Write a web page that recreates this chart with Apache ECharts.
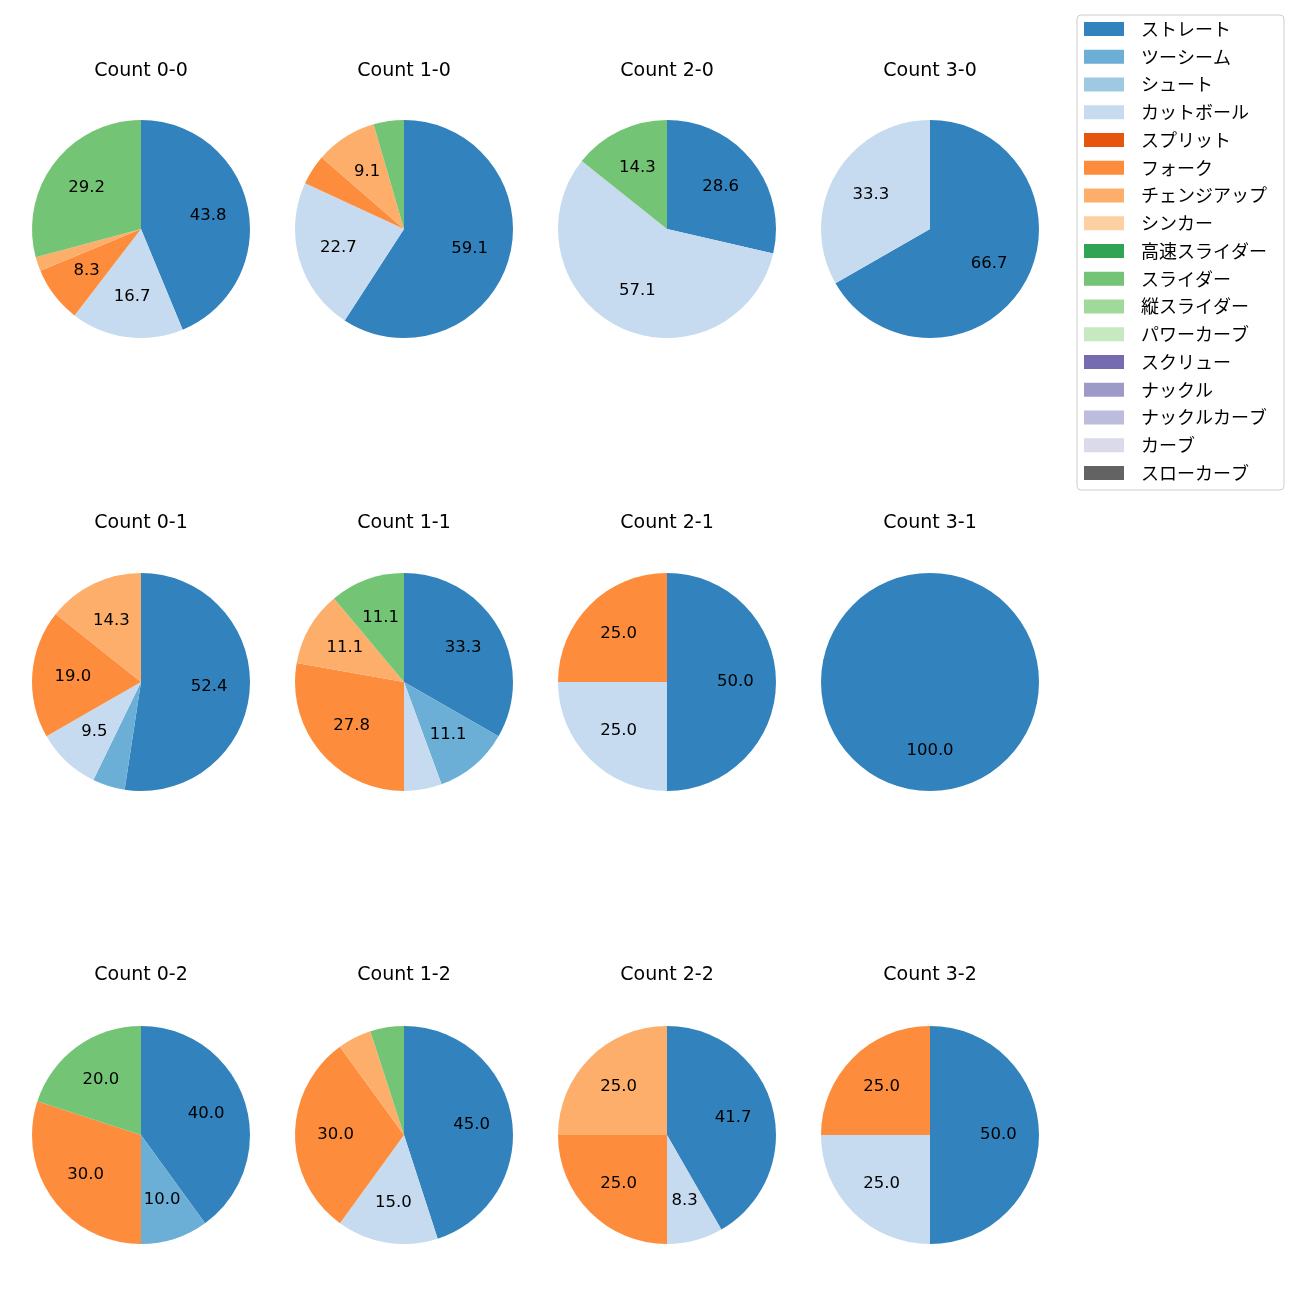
<!DOCTYPE html>
<html>
<head>
<meta charset="utf-8">
<script src="https://cdn.jsdelivr.net/npm/echarts@6/dist/echarts.min.js"></script>
<style>html,body{margin:0;padding:0;background:#fff}#c{width:1300px;height:1300px}</style>
</head>
<body>
<div id="c"></div>
<script>
const categories = ['ストレート','ツーシーム','シュート','カットボール','スプリット','フォーク','チェンジアップ','シンカー','高速スライダー','スライダー','縦スライダー','パワーカーブ','スクリュー','ナックル','ナックルカーブ','カーブ','スローカーブ'];
const colors = ['#3182bd','#6baed6','#9ecae1','#c6dbef','#e6550d','#fd8d3c','#fdae6b','#fdd0a2','#31a354','#74c476','#a1d99b','#c7e9c0','#756bb1','#9e9ac8','#bcbddc','#dadaeb','#636363'];

// percentages per category (same order as categories)
const count00 = [43.8,0,0,16.7,0,8.3,2.1,0,0,29.2,0,0,0,0,0,0,0];
const count10 = [59.1,0,0,22.7,0,4.5,9.1,0,0,4.5,0,0,0,0,0,0,0];
const count20 = [28.6,0,0,57.1,0,0,0,0,0,14.3,0,0,0,0,0,0,0];
const count30 = [66.7,0,0,33.3,0,0,0,0,0,0,0,0,0,0,0,0,0];
const count01 = [52.4,4.8,0,9.5,0,19.0,14.3,0,0,0,0,0,0,0,0,0,0];
const count11 = [33.3,11.1,0,5.6,0,27.8,11.1,0,0,11.1,0,0,0,0,0,0,0];
const count21 = [50.0,0,0,25.0,0,25.0,0,0,0,0,0,0,0,0,0,0,0];
const count31 = [100.0,0,0,0,0,0,0,0,0,0,0,0,0,0,0,0,0];
const count02 = [40.0,10.0,0,0,0,30.0,0,0,0,20.0,0,0,0,0,0,0,0];
const count12 = [45.0,0,0,15.0,0,30.0,5.0,0,0,5.0,0,0,0,0,0,0,0];
const count22 = [41.7,0,0,8.3,0,25.0,25.0,0,0,0,0,0,0,0,0,0,0];
const count32 = [50.0,0,0,25.0,0,25.0,0,0,0,0,0,0,0,0,0,0,0];

const pieTitles = ['Count 0-0','Count 1-0','Count 2-0','Count 3-0','Count 0-1','Count 1-1','Count 2-1','Count 3-1','Count 0-2','Count 1-2','Count 2-2','Count 3-2'];
const pieValues = [count00,count10,count20,count30,count01,count11,count21,count31,count02,count12,count22,count32];

const colX = [141, 404, 667, 930];
const rowY = [229, 682, 1135];
const titleY = [71, 523, 975];
const R = 109;
const LATIN = '"DejaVu Sans", "Noto Sans CJK JP", sans-serif';
const CJK = '"Noto Sans CJK JP", sans-serif';

const graphics = [];
const series = [];
pieValues.forEach((vals, i) => {
  const col = i % 4, row = Math.floor(i / 4);
  const cx = colX[col], cy = rowY[row];
  graphics.push({
    type: 'text', x: cx, y: titleY[row], silent: true,
    style: { text: pieTitles[i], align: 'center', verticalAlign: 'middle', font: '19px ' + LATIN, fill: '#000' }
  });
  series.push({
    type: 'pie', center: [cx, cy], radius: [0, R], startAngle: 90, clockwise: true,
    silent: true, animation: false, avoidLabelOverlap: false,
    label: { show: false }, labelLine: { show: false },
    emphasis: { disabled: true },
    data: vals.map((v, k) => ({ name: categories[k], value: v, itemStyle: { color: colors[k], borderWidth: 0 } }))
  });
  series.push({
    type: 'pie', center: [cx, cy], radius: [R * 0.2, R], startAngle: 90, clockwise: true,
    silent: true, animation: false, avoidLabelOverlap: false,
    itemStyle: { color: 'rgba(0,0,0,0)', borderWidth: 0 },
    labelLine: { show: false },
    emphasis: { disabled: true },
    label: {
      show: true, position: 'inside', color: '#000', fontFamily: LATIN, fontSize: 16.5,
      textBorderWidth: 0,
      formatter: p => (p.value >= 7 ? p.value.toFixed(1) : '')
    },
    data: vals.map(v => ({ value: v }))
  });
});

const chart = echarts.init(document.getElementById('c'), null, { renderer: 'canvas' });
chart.setOption({
  animation: false,
  graphic: graphics,
  legend: {
    data: categories, orient: 'vertical', left: 1077, top: 15,
    icon: 'rect', itemWidth: 40, itemHeight: 14, itemGap: 9.75,
    padding: [5, 17, 8, 7],
    borderColor: '#cccccc', borderWidth: 1, borderRadius: 4,
    selectedMode: false,
    textStyle: { fontFamily: CJK, fontSize: 18, lineHeight: 18, color: '#000', padding: [0, 0, 0, 12] }
  },
  series: series
});
</script>
</body>
</html>
